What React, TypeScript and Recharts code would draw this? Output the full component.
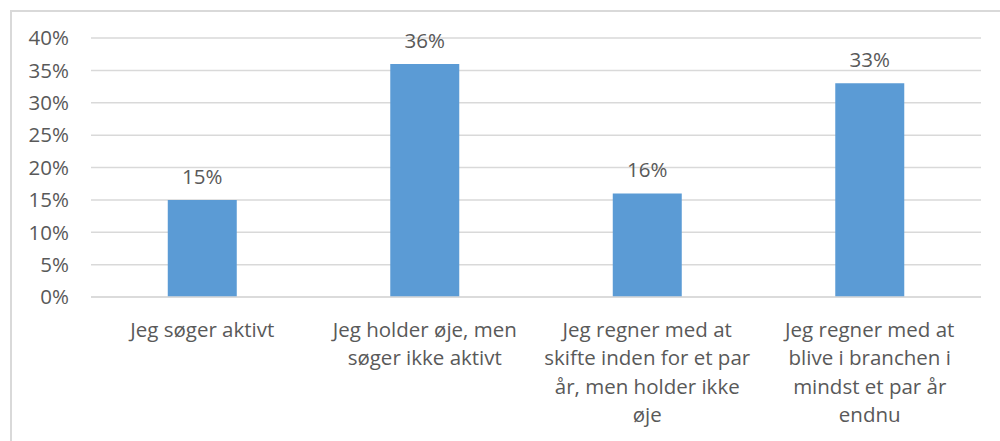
import React from "react";
import { BarChart, Bar, XAxis, YAxis, CartesianGrid, LabelList } from "recharts";

const categories = [
  "Jeg søger aktivt",
  "Jeg holder øje, men søger ikke aktivt",
  "Jeg regner med at skifte inden for et par år, men holder ikke øje",
  "Jeg regner med at blive i branchen i mindst et par år endnu",
];

// how the category labels wrap in the original
const categoryLines = [
  ["Jeg søger aktivt"],
  ["Jeg holder øje, men", "søger ikke aktivt"],
  ["Jeg regner med at", "skifte inden for et par", "år, men holder ikke", "øje"],
  ["Jeg regner med at", "blive i branchen i", "mindst et par år", "endnu"],
];

const shares = [0.15, 0.36, 0.16, 0.33];

const yTicks = [0, 0.05, 0.1, 0.15, 0.2, 0.25, 0.3, 0.35, 0.4];

const data = categories.map((name, i) => ({ name, value: shares[i] }));

const FONT = "'Open Sans', sans-serif";
const TEXT = "#595959";
const GRID = "#d9d9d9";
const SIZE = 20.5;

const pct = (v: number) => `${Math.round(v * 100)}%`;

function CategoryTick(props: any) {
  const { x, y, index } = props;
  const lines = categoryLines[index] || [];
  return (
    <text
      x={x}
      y={y}
      textAnchor="middle"
      fill={TEXT}
      fontFamily={FONT}
      fontSize={SIZE}
    >
      {lines.map((line, i) => (
        <tspan key={i} x={x} dy={i === 0 ? 32 : 28.3}>
          {line}
        </tspan>
      ))}
    </text>
  );
}

export default function App() {
  return (
    <div
      style={{
        position: "absolute",
        left: 0,
        top: 0,
        width: 1000,
        height: 441,
        background: "#fff",
        overflow: "hidden",
      }}
    >
      <div
        style={{
          position: "absolute",
          left: 10,
          top: 10,
          width: 1000,
          height: 440,
          borderLeft: `2px solid ${GRID}`,
          borderTop: `2px solid ${GRID}`,
        }}
      />
      <BarChart
        width={1000}
        height={441}
        data={data}
        margin={{ top: 38, right: 19, left: 0, bottom: 0 }}
        barCategoryGap="34.5%"
        style={{ position: "absolute", left: 0, top: 0 }}
      >
        <CartesianGrid vertical={false} stroke={GRID} strokeWidth={1.5} />
        <XAxis
          dataKey="name"
          height={144}
          axisLine={{ stroke: GRID, strokeWidth: 1.5 }}
          tickLine={false}
          interval={0}
          tick={<CategoryTick />}
        />
        <YAxis
          width={91}
          domain={[0, 0.4]}
          ticks={yTicks}
          interval={0}
          tickFormatter={pct}
          axisLine={false}
          tickLine={false}
          tickMargin={16}
          tick={{ fill: TEXT, fontSize: SIZE, fontFamily: FONT }}
        />
        <Bar dataKey="value" fill="#5b9bd5" isAnimationActive={false}>
          <LabelList
            dataKey="value"
            position="top"
            offset={16}
            formatter={(v: any) => pct(Number(v))}
            style={{ fill: TEXT, fontSize: SIZE, fontFamily: FONT }}
          />
        </Bar>
      </BarChart>
    </div>
  );
}
